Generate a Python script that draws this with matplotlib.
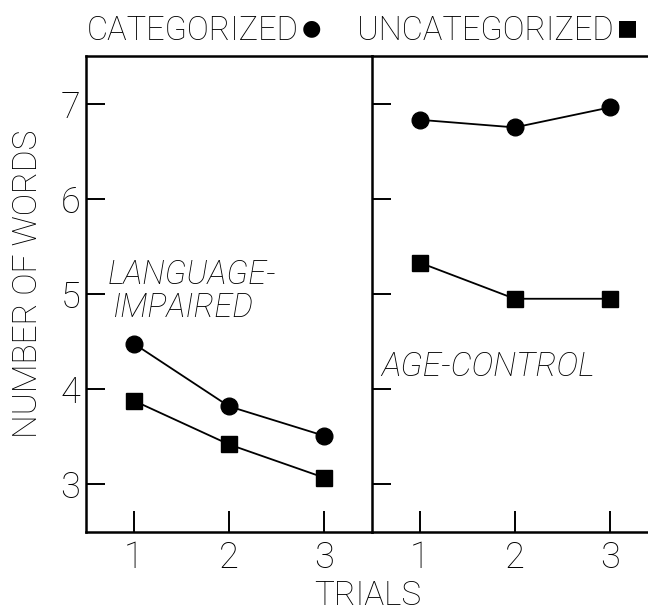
import matplotlib
matplotlib.use("Agg")
import matplotlib.pyplot as plt
from matplotlib import font_manager
from matplotlib.transforms import offset_copy

# values
trials = [1, 2, 3]
trial_labels = ["1", "2", "3"]
yticks = [3, 4, 5, 6, 7]
li_categorized = [4.48, 3.82, 3.51]
li_uncategorized = [3.88, 3.42, 3.07]
ac_categorized = [6.83, 6.75, 6.96]
ac_uncategorized = [5.33, 4.95, 4.95]

names = {f.name for f in font_manager.fontManager.ttflist}
main_font = next((n for n in ["Roboto", "Liberation Sans"] if n in names), "DejaVu Sans")
plt.rcParams["font.family"] = [main_font, "DejaVu Sans"]
plt.rcParams["font.weight"] = "light"

W, H = 648, 612
fig = plt.figure(figsize=(W / 100, H / 100), dpi=100)
ax1 = fig.add_axes([86 / W, 80 / H, 286 / W, 476 / H])
ax2 = fig.add_axes([372 / W, 80 / H, 276 / W, 476 / H], sharey=ax1)


def style(ax, xmax):
    ax.set_xlim(0.5, xmax)
    ax.set_ylim(2.5, 7.5)
    ax.set_xticks(trials)
    ax.set_xticklabels(trial_labels)
    ax.set_yticks(yticks)
    ax.spines["right"].set_visible(False)
    for s in ["left", "bottom", "top"]:
        ax.spines[s].set_linewidth(1.8)
    ax.tick_params(axis="x", direction="in", length=15, width=1.4, pad=6,
                   labelsize=26, top=False)
    ax.tick_params(axis="y", direction="in", length=14, width=1.4, pad=4,
                   labelsize=26, right=False)


style(ax1, 3.5)
style(ax2, 3.4)
ax2.tick_params(axis="y", labelleft=False)

line_kw = dict(color="black", linewidth=1.3, clip_on=False)
ax1.plot(trials, li_categorized, marker="o", markersize=12, **line_kw)
ax1.plot(trials, li_uncategorized, marker="s", markersize=11, **line_kw)
ax2.plot(trials, ac_categorized, marker="o", markersize=12, **line_kw)
ax2.plot(trials, ac_uncategorized, marker="s", markersize=11, **line_kw)

ax1.text(0.73, 5.10, "LANGUAGE-", fontsize=23.5, style="italic", va="baseline")
ax1.text(0.78, 4.76, "IMPAIRED", fontsize=23.5, style="italic", va="baseline")
ax2.text(0.60, 4.14, "AGE-CONTROL", fontsize=24, style="italic", va="baseline")

fig.text(28 / W, (H - 284) / H, "NUMBER OF WORDS", fontsize=24, rotation=90,
         ha="center", va="center")
fig.text(368 / W, (H - 605) / H, "TRIALS", fontsize=24, ha="center", va="baseline")

# header legend: word followed by the marker symbol
renderer = fig.canvas.get_renderer()
for x0, word, sym in [(87, "CATEGORIZED", "\u25cf"), (357, "UNCATEGORIZED", "\u25a0")]:
    t = fig.text(x0 / W, (H - 40) / H, word, fontsize=23.5, va="baseline")
    w = t.get_window_extent(renderer).width
    fig.text(x0 / W, (H - 34) / H, sym, fontsize=16, va="baseline",
             family=["DejaVu Sans"], weight="normal",
             transform=offset_copy(fig.transFigure, fig=fig, x=w + 3, y=0, units="dots"))

fig.savefig("out.png", dpi=100)
